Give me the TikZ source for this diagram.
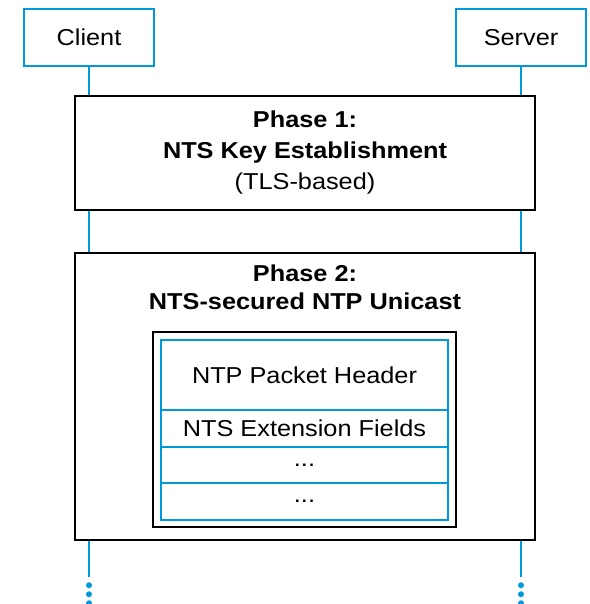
\documentclass[tikz,border=0pt]{standalone}
\usepackage{fontspec}
\setmainfont[FakeStretch=1.1]{Liberation Sans}
\usepackage{xcolor}
\usepackage{tikz}
\usetikzlibrary{positioning}
\definecolor{ntsblue}{RGB}{0, 153, 220}

\begin{document}
\begin{tikzpicture}[x=1pt, y=-1pt,
		party/.style={draw=ntsblue, line width=2pt, minimum width=130pt, minimum height=57pt, inner sep=0pt, font=\fontsize{23}{28}\selectfont},
		phasebox/.style={draw=black, line width=2.5pt, minimum width=460pt, inner sep=0pt},
		field/.style={draw=ntsblue, line width=2pt, minimum width=287pt, inner sep=0pt, outer sep=0pt, font=\fontsize{23}{28}\selectfont},
		life/.style={ntsblue, line width=2pt}]
			\useasboundingbox (0,0) rectangle (589,604);

			% parties
			\node[party] (client) at (89, 37.5) {Client};
			\node[party] (server) at (521, 37.5) {Server};

			% Phase 1
			\node[phasebox, minimum height=114pt, align=center, font=\fontsize{23}{31}\selectfont] (phase1) at (305, 153)
				{\textbf{Phase 1:}\\ \textbf{NTS Key Establishment}\\ (TLS-based)};

			% Phase 2
			\node[phasebox, minimum height=287pt] (phase2) at (305, 396.5) {};
			\node[below=10pt of phase2.north, align=center, font=\fontsize{23}{28}\selectfont\bfseries] (title2)
				{Phase 2:\\ NTS-secured NTP Unicast};

			% packet layout
			\node[draw=black, line width=2.5pt, minimum width=303pt, minimum height=195pt] (packet) at (304.5, 429.5) {};
			\node[field, minimum height=70pt] (header) at (304.5, 375) {NTP Packet Header};
			\node[field, minimum height=37pt, below=0pt of header] (ext) {NTS Extension Fields};
			\node[field, minimum height=36pt, below=0pt of ext] (more1) {...};
			\node[field, minimum height=37pt, below=0pt of more1] (more2) {...};

			% lifelines
			\foreach \p in {client, server} {
				\draw[life] (\p.south) -- (\p.south |- phase1.north);
				\draw[life] (\p.south |- phase1.south) -- (\p.south |- phase2.north);
				\coordinate (\p end) at ([yshift=-36pt]\p.south |- phase2.south);
				\draw[life] (\p.south |- phase2.south) -- (\p end);
				\foreach \d in {8, 17, 26}
					\fill[ntsblue] ([yshift=-\d pt]\p end) circle (3pt);
			}

		\end{tikzpicture}
\end{document}
